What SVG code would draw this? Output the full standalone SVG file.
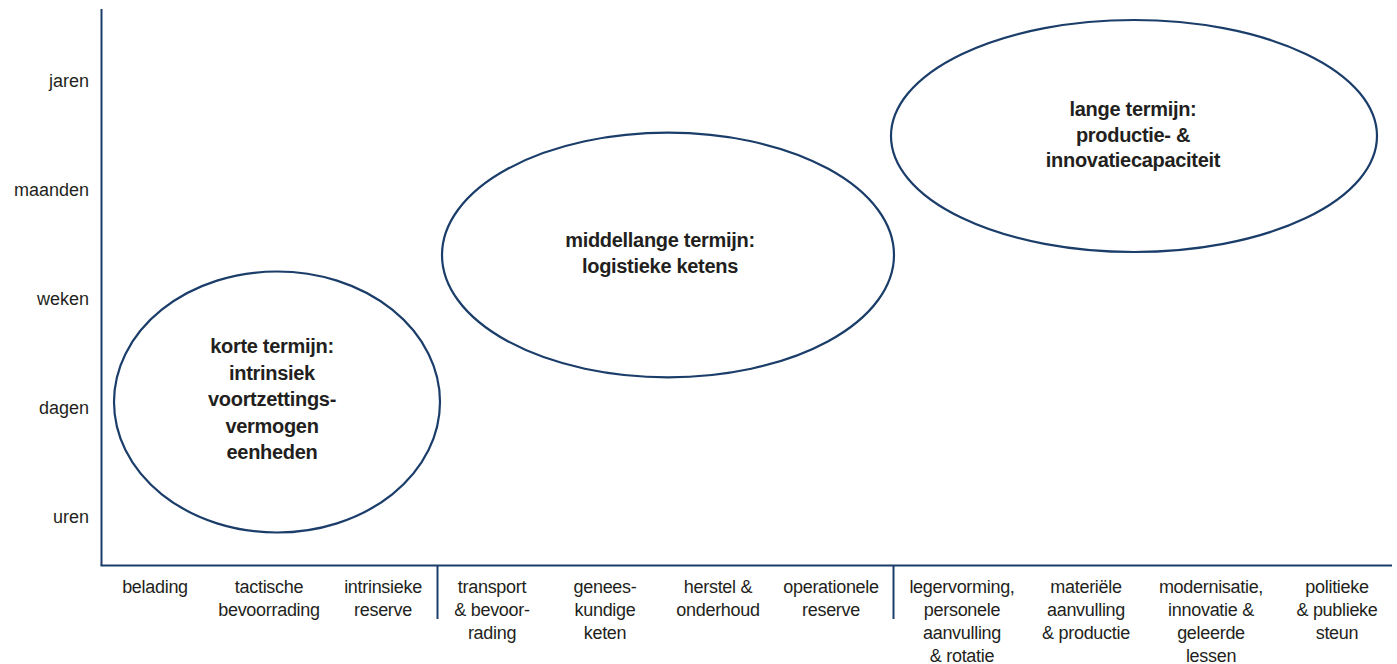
<svg xmlns="http://www.w3.org/2000/svg" width="1397" height="664" viewBox="0 0 1397 664">
<style>
  .ax { stroke: #1b3d6a; stroke-width: 2; fill: none; }
  .el { stroke: #1b3d6a; stroke-width: 2.2; fill: none; }
  .yl { font-family: "Liberation Sans", Arial, sans-serif; font-size: 18px; fill: #231f20; text-anchor: end; }
  .xl { font-family: "Liberation Sans", Arial, sans-serif; font-size: 18px; fill: #231f20; text-anchor: middle; letter-spacing: -0.3px; }
  .nt { font-family: "Liberation Sans", Arial, sans-serif; font-size: 20px; font-weight: bold; fill: #231f20; text-anchor: middle; letter-spacing: -0.3px; }
</style>
<rect width="1397" height="664" fill="#ffffff"/>
<g id="axes">
  <line class="ax" x1="101.5" y1="9" x2="101.5" y2="565.5"/>
  <line class="ax" x1="100.5" y1="565.5" x2="1392" y2="565.5"/>
  <line class="ax" x1="437.5" y1="565.5" x2="437.5" y2="619"/>
  <line class="ax" x1="893.5" y1="565.5" x2="893.5" y2="619"/>
</g>
<g id="y-labels">
  <text class="yl" x="89" y="86.5">jaren</text>
  <text class="yl" x="89" y="195.5">maanden</text>
  <text class="yl" x="89" y="304.5">weken</text>
  <text class="yl" x="89" y="413.5">dagen</text>
  <text class="yl" x="89" y="522.5">uren</text>
</g>
<g id="x-labels">
  <text class="xl" x="155" y="593">belading</text>
  <text class="xl" x="269" y="593"><tspan x="269">tactische</tspan><tspan x="269" dy="23">bevoorrading</tspan></text>
  <text class="xl" x="383" y="593"><tspan x="383">intrinsieke</tspan><tspan x="383" dy="23">reserve</tspan></text>
  <text class="xl" x="492" y="593"><tspan x="492">transport</tspan><tspan x="492" dy="23">&amp; bevoor-</tspan><tspan x="492" dy="23">rading</tspan></text>
  <text class="xl" x="605" y="593"><tspan x="605">genees-</tspan><tspan x="605" dy="23">kundige</tspan><tspan x="605" dy="23">keten</tspan></text>
  <text class="xl" x="718" y="593"><tspan x="718">herstel &amp;</tspan><tspan x="718" dy="23">onderhoud</tspan></text>
  <text class="xl" x="831" y="593"><tspan x="831">operationele</tspan><tspan x="831" dy="23">reserve</tspan></text>
  <text class="xl" x="962" y="593"><tspan x="962">legervorming,</tspan><tspan x="962" dy="23">personele</tspan><tspan x="962" dy="23">aanvulling</tspan><tspan x="962" dy="23">&amp; rotatie</tspan></text>
  <text class="xl" x="1086" y="593"><tspan x="1086">materiële</tspan><tspan x="1086" dy="23">aanvulling</tspan><tspan x="1086" dy="23">&amp; productie</tspan></text>
  <text class="xl" x="1211" y="593"><tspan x="1211">modernisatie,</tspan><tspan x="1211" dy="23">innovatie &amp;</tspan><tspan x="1211" dy="23">geleerde</tspan><tspan x="1211" dy="23">lessen</tspan></text>
  <text class="xl" x="1337" y="593"><tspan x="1337">politieke</tspan><tspan x="1337" dy="23">&amp; publieke</tspan><tspan x="1337" dy="23">steun</tspan></text>
</g>
<g id="node-korte-termijn">
  <ellipse class="el" cx="277" cy="402" rx="163" ry="130.5"/>
  <text class="nt" x="272" y="353"><tspan x="272">korte termijn:</tspan><tspan x="272" dy="26.5">intrinsiek</tspan><tspan x="272" dy="26.5">voortzettings-</tspan><tspan x="272" dy="26.5">vermogen</tspan><tspan x="272" dy="26.5">eenheden</tspan></text>
</g>
<g id="node-middellange-termijn">
  <ellipse class="el" cx="668" cy="255" rx="226" ry="122.3"/>
  <text class="nt" x="660" y="247"><tspan x="660">middellange termijn:</tspan><tspan x="660" dy="26">logistieke ketens</tspan></text>
</g>
<g id="node-lange-termijn">
  <ellipse class="el" cx="1134" cy="136" rx="243" ry="116"/>
  <text class="nt" x="1133" y="116"><tspan x="1133">lange termijn:</tspan><tspan x="1133" dy="25.5">productie- &amp;</tspan><tspan x="1133" dy="25.5">innovatiecapaciteit</tspan></text>
</g>
</svg>
